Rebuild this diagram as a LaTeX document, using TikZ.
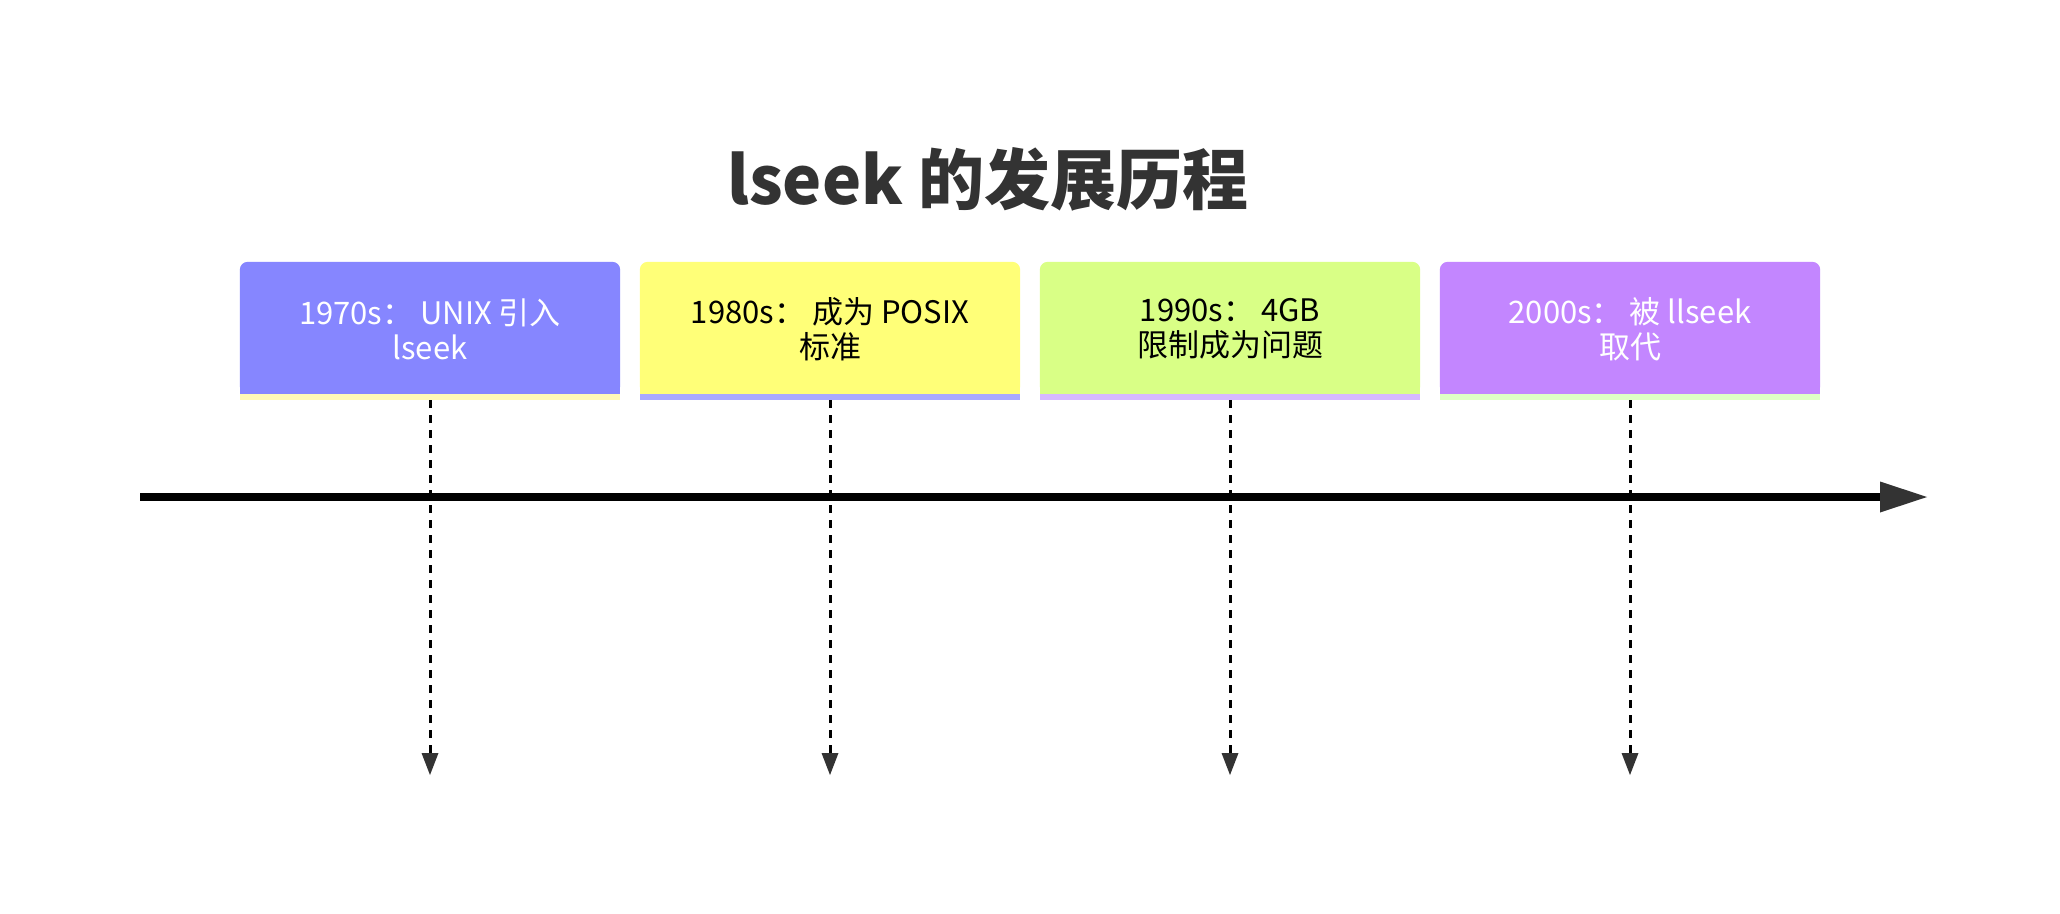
\documentclass[tikz,border=0pt]{standalone}
\usepackage{fontspec}
\setmainfont{Noto Sans CJK SC}
\usetikzlibrary{arrows.meta}
\definecolor{cA}{HTML}{8686FF}
\definecolor{cB}{HTML}{FFFF78}
\definecolor{cC}{HTML}{D9FF86}
\definecolor{cD}{HTML}{C386FF}
\definecolor{sA}{HTML}{FFF9B8}
\definecolor{sB}{HTML}{A9A9FF}
\definecolor{sC}{HTML}{D6B9FF}
\definecolor{sD}{HTML}{DFFFC6}
\definecolor{dk}{HTML}{333333}
\tikzset{
  evbox/.style={minimum width=380pt, minimum height=132pt, inner sep=0pt, align=center,
    font=\fontsize{31pt}{35pt}\selectfont},
  vline/.style={line width=3pt, black, dash pattern=on 8pt off 7pt,
    -{Triangle[length=22pt,width=17pt,color=dk,line width=0pt]}},
}
\newcommand{\evfill}[3]{%
  \fill[#2, rounded corners=8pt] (#1.south west) rectangle (#1.north east);
  \fill[#2] (#1.south west) rectangle ([yshift=20pt]#1.east);
  \fill[#3] (#1.south west) rectangle ([yshift=-6pt]#1.south east);
}
\begin{document}
\begin{tikzpicture}[x=1pt,y=-1pt]
\useasboundingbox[fill=white] (0,0) rectangle (2060,913);
\node[text=dk, font=\fontsize{66pt}{72pt}\selectfont\bfseries] (title) at (988,179) {lseek 的发展历程};

\node[evbox] (b1) at (430,328) {};
\node[evbox] (b2) at (830,328) {};
\node[evbox] (b3) at (1230,328) {};
\node[evbox] (b4) at (1630,328) {};
\evfill{b1}{cA}{sA}
\evfill{b2}{cB}{sB}
\evfill{b3}{cC}{sC}
\evfill{b4}{cD}{sD}
\node[evbox, text=white] (t1) at (430,329) {1970s：\ UNIX 引入\\lseek};
\node[evbox, text=black] (t2) at (830,329) {1980s：\ 成为 POSIX\\标准};
\node[evbox, text=black] (t3) at (1230,329) {1990s：\ 4GB\\限制成为问题};
\node[evbox, text=white] (t4) at (1630,329) {2000s：\ 被 llseek\\取代};

\coordinate (e1) at (430,775);
\coordinate (e2) at (830,775);
\coordinate (e3) at (1230,775);
\coordinate (e4) at (1630,775);
\coordinate (tl0) at (140,497);
\coordinate (tl1) at (1927,497);

\draw[vline] ([yshift=-6pt]b1.south) -- (e1);
\draw[vline] ([yshift=-6pt]b2.south) -- (e2);
\draw[vline] ([yshift=-6pt]b3.south) -- (e3);
\draw[vline] ([yshift=-6pt]b4.south) -- (e4);

\draw[line width=8pt, black, -{Triangle[length=47pt,width=31pt,color=dk,line width=0pt]}] (tl0) -- (tl1);
\end{tikzpicture}
\end{document}
